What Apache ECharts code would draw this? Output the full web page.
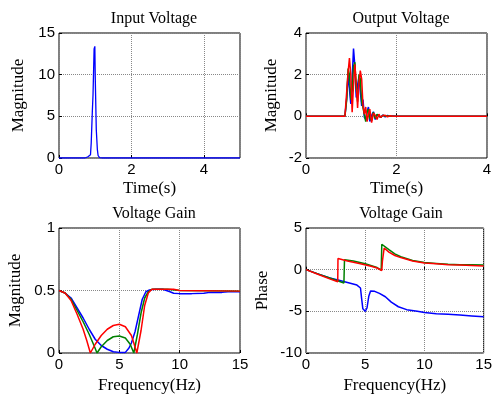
<!DOCTYPE html>
<html>
<head>
<meta charset="utf-8">
<script src="https://cdn.jsdelivr.net/npm/echarts@6/dist/echarts.min.js"></script>
<style>
  html, body { margin: 0; padding: 0; background: #fff; }
  #chart { width: 495px; height: 398px; }
</style>
</head>
<body>
<div id="chart"></div>
<script>
// Input Voltage
var tIn = [0, 0.72, 0.8, 0.87, 0.89, 0.92, 0.94, 0.97, 0.99, 1.0, 1.03, 1.06, 1.08, 1.12, 1.2, 5]
var vIn = [0, 0, 0.15, 0.4, 1.8, 5.5, 7.6, 13.1, 13.4, 10, 3.4, 1.0, 0.3, 0.05, 0, 0]

// Output Voltage (three cases share the time points)
var tOut = [0, 0.86, 0.9, 0.93, 0.96, 0.99, 1.02, 1.05, 1.08, 1.11, 1.14, 1.17, 1.2, 1.23, 1.26, 1.29, 1.32, 1.35, 1.38, 1.41, 1.45, 1.49, 1.53, 1.57, 1.61, 1.65, 1.7, 1.75, 1.8, 1.86, 1.92, 2.0, 4]
var outBlue = [0, 0, 0.9, 2.0, 1.3, 0.6, 1.8, 3.25, 2.4, 0.9, 1.5, 1.9, 1.2, 0.5, 0.8, -0.05, -0.15, 0.25, 0.45, -0.25, 0.05, 0.22, -0.15, 0.08, 0.1, -0.05, 0.06, -0.03, 0.04, 0, 0.02, 0, 0]
var outGreen = [0, 0, 0.8, 2.3, 2.0, 0.8, 1.2, 2.4, 2.6, 1.3, 0.7, 2.0, 1.8, 0.7, 0.4, 0.1, -0.25, 0.2, 0.35, -0.1, -0.2, 0.2, -0.1, 0.1, 0.02, -0.05, 0.05, 0, 0.03, 0, 0, 0, 0]
var outRed = [0, 0, 1.2, 2.1, 2.8, 2.0, 0.2, 1.5, 2.5, 1.6, 0.4, 1.6, 2.2, 1.8, 0.5, 0.1, 0.45, -0.25, 0.1, 0.35, -0.3, 0.15, 0.05, -0.15, 0.1, -0.05, 0.04, 0.05, -0.02, 0.03, 0, 0, 0]

// Voltage Gain - magnitude
var fMagBlue = [0, 0.5, 1, 1.5, 2, 2.5, 3, 3.5, 4, 4.5, 5, 5.5, 5.8, 6, 6.3, 6.6, 6.9, 7.2, 7.5, 8, 8.6, 9.2, 9.5, 10, 11, 12, 12.5, 13.5, 14, 15]
var magBlue = [0.5, 0.48, 0.44, 0.36, 0.28, 0.19, 0.11, 0.06, 0.03, 0.01, 0.005, 0.005, 0.04, 0.08, 0.17, 0.3, 0.43, 0.49, 0.505, 0.51, 0.51, 0.49, 0.478, 0.475, 0.475, 0.478, 0.485, 0.485, 0.49, 0.49]
var fMagGreen = [0, 0.5, 1, 1.5, 2, 2.5, 2.9, 3.15, 3.5, 4, 4.5, 5, 5.5, 5.9, 6.2, 6.5, 6.8, 7.1, 7.4, 7.7, 9, 10, 15]
var magGreen = [0.5, 0.48, 0.43, 0.34, 0.25, 0.15, 0.06, 0.0, 0.05, 0.1, 0.13, 0.136, 0.12, 0.07, 0.0, 0.15, 0.32, 0.44, 0.49, 0.51, 0.51, 0.5, 0.495]
var fMagRed = [0, 0.5, 1, 1.5, 2, 2.3, 2.6, 3, 3.5, 4, 4.5, 5, 5.5, 6, 6.2, 6.45, 6.8, 7.1, 7.4, 7.7, 9.5, 10, 15]
var magRed = [0.5, 0.48, 0.42, 0.31, 0.19, 0.1, 0.0, 0.07, 0.14, 0.19, 0.22, 0.23, 0.21, 0.14, 0.08, 0.0, 0.18, 0.38, 0.48, 0.51, 0.51, 0.5, 0.495]

// Voltage Gain - phase
var fPhBlue = [0, 1, 2, 2.7, 3.5, 4.3, 4.6, 4.7, 4.8, 5.0, 5.15, 5.3, 5.45, 5.8, 6.2, 6.7, 7.2, 7.8, 8.5, 9.4, 10, 11, 12, 13, 14, 15]
var phBlue = [0, -0.5, -1.0, -1.25, -1.55, -1.85, -2.2, -3.5, -4.7, -5.0, -4.6, -3.2, -2.55, -2.6, -2.85, -3.25, -3.9, -4.45, -4.8, -4.98, -5.15, -5.28, -5.36, -5.45, -5.55, -5.65]
var fPhGreen = [0, 1, 2, 3.2, 3.25, 4, 5, 6, 6.35, 6.4, 7, 7.5, 8, 9, 10, 11, 12, 13, 14, 15]
var phGreen = [0, -0.5, -1.0, -1.6, 1.2, 1.05, 0.7, 0.25, -0.05, 3.05, 2.4, 1.9, 1.55, 1.1, 0.85, 0.75, 0.65, 0.6, 0.58, 0.55]
var fPhRed = [0, 1, 2, 2.68, 2.7, 3.5, 4.5, 5.5, 6.0, 6.4, 6.45, 6.6, 7, 7.5, 8, 9, 10, 11, 12, 13, 14, 15]
var phRed = [0, -0.55, -1.1, -1.45, 1.35, 1.05, 0.75, 0.4, 0.2, -0.1, 1.0, 2.6, 2.1, 1.7, 1.45, 1.05, 0.8, 0.7, 0.6, 0.55, 0.5, 0.45]

var BLUE = '#0000ff', GREEN = '#008000', RED = '#ff0000'

function pairs(xs, ys) { return xs.map(function (x, i) { return [x, ys[i]] }) }

var chart = echarts.init(document.getElementById('chart'))

var serif = 'Liberation Serif'
var sans = 'Liberation Sans'

var grids = [
  { left: 59, top: 33, width: 181, height: 125 },
  { left: 306, top: 33, width: 181, height: 125 },
  { left: 59, top: 228, width: 181, height: 125 },
  { left: 306, top: 228, width: 181, height: 125 }
].map(function (g) {
  return Object.assign(g, { show: true, borderColor: '#000', borderWidth: 1, backgroundColor: '#fff' })
})

function axis(idx, min, max, interval, name, gap, showMax) {
  return {
    type: 'value', gridIndex: idx, min: min, max: max, interval: interval,
    name: name, nameLocation: 'middle', nameGap: gap,
    nameTextStyle: { fontFamily: serif, fontSize: 17, color: '#000' },
    axisLine: { show: false },
    axisTick: { show: true, inside: true, length: 3, lineStyle: { color: '#000' } },
    axisLabel: { fontFamily: sans, fontSize: 15, color: '#000', margin: 4, showMaxLabel: showMax !== false },
    splitLine: { show: true, lineStyle: { color: '#888', type: [1, 1], width: 1 } }
  }
}

var titles = [
  { text: 'Input Voltage', left: 149, top: 6 },
  { text: 'Output Voltage', left: 396, top: 6 },
  { text: 'Voltage Gain', left: 149, top: 201 },
  { text: 'Voltage Gain', left: 396, top: 201 }
].map(function (t) {
  return Object.assign(t, { textAlign: 'center', textStyle: { fontFamily: serif, fontSize: 16, fontWeight: 'normal', color: '#000' } })
})

function line(idx, data, color, w) {
  return {
    type: 'line', xAxisIndex: idx, yAxisIndex: idx, data: data, symbol: 'none',
    lineStyle: { color: color, width: w || 1.5 }, animation: false
  }
}

var option = {
  animation: false,
  title: titles,
  grid: grids,
  xAxis: [
    axis(0, 0, 5, 2, 'Time(s)', 22, false),
    axis(1, 0, 4, 2, 'Time(s)', 22),
    axis(2, 0, 15, 5, 'Frequency(Hz)', 24),
    axis(3, 0, 15, 5, 'Frequency(Hz)', 24)
  ],
  yAxis: [
    axis(0, 0, 15, 5, 'Magnitude', 32),
    axis(1, -2, 4, 2, 'Magnitude', 26),
    axis(2, 0, 1, 0.5, 'Magnitude', 35),
    axis(3, -10, 5, 5, 'Phase', 35)
  ],
  series: [
    line(0, pairs(tIn, vIn), BLUE, 1.3),
    line(1, pairs(tOut, outBlue), BLUE),
    line(1, pairs(tOut, outGreen), GREEN),
    line(1, pairs(tOut, outRed), RED),
    line(2, pairs(fMagBlue, magBlue), BLUE),
    line(2, pairs(fMagGreen, magGreen), GREEN),
    line(2, pairs(fMagRed, magRed), RED),
    line(3, pairs(fPhBlue, phBlue), BLUE),
    line(3, pairs(fPhGreen, phGreen), GREEN),
    line(3, pairs(fPhRed, phRed), RED)
  ]
}

chart.setOption(option)
</script>
</body>
</html>
